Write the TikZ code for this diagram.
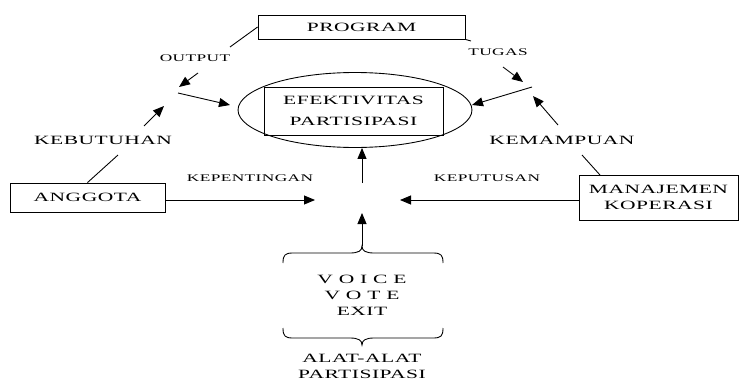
\documentclass[tikz,border=0pt]{standalone}
\usepackage{fontspec}
\setmainfont{Liberation Serif}[FakeStretch=1.7,LetterSpace=4]
\usetikzlibrary{arrows.meta, shapes.geometric}
\newcommand{\besar}{\fontsize{7.2}{9}\selectfont}
\newcommand{\kecil}{\fontsize{5.8}{7}\selectfont}

\begin{document}
\begin{tikzpicture}[x=0.02cm, y=-0.02cm, >={Triangle[length=2.2mm,width=1.8mm]}, line width=0.5pt,
  kotak/.style={draw, rectangle, align=center, inner sep=0pt, font=\besar},
  teks/.style={align=center, inner sep=1pt, font=\besar},
  kecil/.style={inner sep=1pt, font=\kecil}]
  \useasboundingbox (0,0) rectangle (740,382);
  % kotak utama
  \node[kotak, minimum width=4.14cm, minimum height=0.48cm] (program) at (361.5,27) {PROGRAM};
  \node[ellipse, draw, minimum width=4.68cm, minimum height=1.5cm, inner sep=0pt] (lingkar) at (355,110) {};
  \node[kotak, minimum width=3.58cm, minimum height=0.96cm] (efektif) at (353.5,111) {EFEKTIVITAS\\[3pt]PARTISIPASI};
  \node[kotak, minimum width=3.1cm, minimum height=0.58cm] (anggota) at (87.5,197.5) {ANGGOTA};
  \node[kotak, minimum width=3.18cm, minimum height=0.9cm] (manajemen) at (658.5,197.5) {MANAJEMEN\\KOPERASI};
  % label
  \node[kecil] (output) at (195,58) {OUTPUT};
  \node[kecil] (tugas) at (498,52) {TUGAS};
  \node[teks] (kebutuhan) at (103,140) {KEBUTUHAN};
  \node[teks] (kemampuan) at (562,140) {KEMAMPUAN};
  \node[kecil] (kepentingan) at (250,178) {KEPENTINGAN};
  \node[kecil] (keputusan) at (487,178) {KEPUTUSAN};
  \node[teks] (alat) at (362,295) {V O I C E\\V O T E\\EXIT};
  \node[teks] (nama) at (362,366) {ALAT-ALAT\\PARTISIPASI};
  % titik bebas
  \coordinate (out1) at (230,47);
  \coordinate (out2) at (198,73);
  \coordinate (kiri) at (179,87);
  \coordinate (kiri2) at (178,93);
  \coordinate (kiri3) at (230,105);
  \coordinate (keb1) at (144,126);
  \coordinate (keb2) at (164,106);
  \coordinate (keb3) at (118,155);
  \coordinate (tug1) at (471,41);
  \coordinate (tug2) at (503,67);
  \coordinate (kanan) at (523,82);
  \coordinate (kanan2) at (532,87);
  \coordinate (kanan3) at (472,105);
  \coordinate (kem1) at (558,125);
  \coordinate (kem2) at (533,96);
  \coordinate (kem3) at (582,155);
  \coordinate (kem4) at (600,175);
  \coordinate (tengah1) at (315,200);
  \coordinate (tengah2) at (400,200);
  \coordinate (atas) at (362,183);
  \coordinate (bawah) at (362,213);
  \coordinate (kurung) at (362,246);
  % garis dan panah
  \draw (program.west) -- (out1);
  \draw[->] (out2) -- (kiri);
  \draw[->] (kiri2) -- (kiri3);
  \draw[->] (keb1) -- (keb2);
  \draw (keb3) -- (anggota.north);
  \draw (program.south east) -- (tug1);
  \draw[->] (tug2) -- (kanan);
  \draw[->] (kanan2) -- (kanan3);
  \draw[->] (kem1) -- (kem2);
  \draw (kem3) -- (kem4);
  \draw[->] (anggota.east |- tengah1) -- (tengah1);
  \draw[->] (manajemen.west |- tengah2) -- (tengah2);
  \draw[->] (atas) -- (atas |- lingkar.south);
  \draw[->] (kurung) -- (bawah);
  % kurung kurawal
  \draw (283,263) .. controls (283,255) and (285,253) .. (293,253) -- (350,253)
    .. controls (358,253) and (362,251) .. (kurung)
    .. controls (362,251) and (366,253) .. (374,253) -- (433,253)
    .. controls (441,253) and (443,255) .. (443,263);
  \draw (283,328) .. controls (283,336) and (285,338) .. (293,338) -- (350,338)
    .. controls (358,338) and (362,340) .. (362,345)
    .. controls (362,340) and (366,338) .. (374,338) -- (433,338)
    .. controls (441,338) and (443,336) .. (443,328);
\end{tikzpicture}
\end{document}
